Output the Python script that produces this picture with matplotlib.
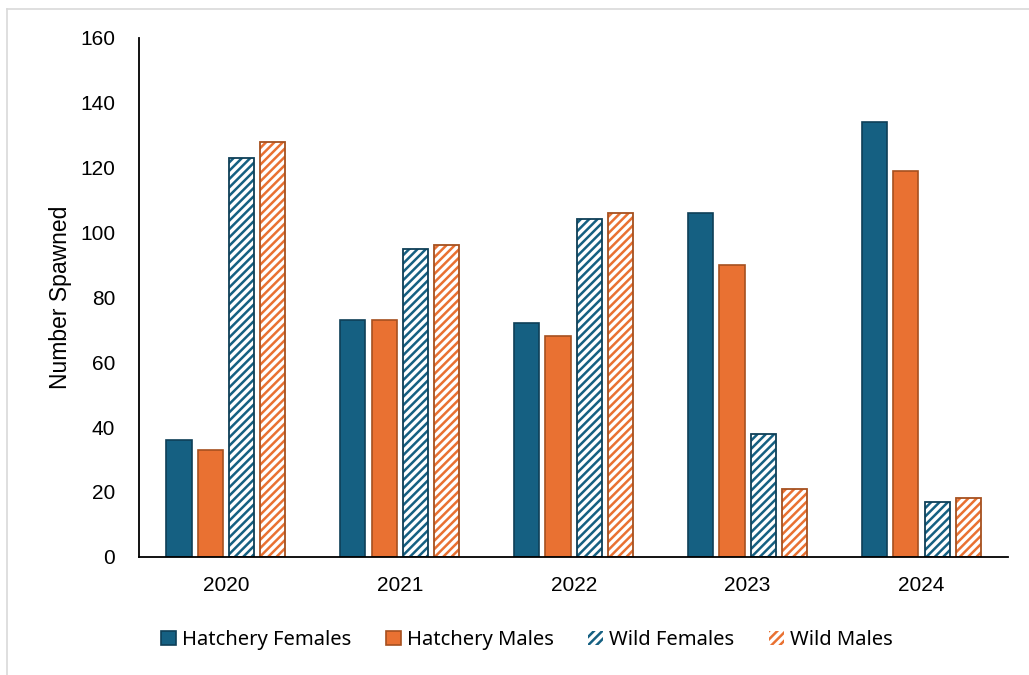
import numpy as np
import matplotlib.pyplot as plt
from matplotlib.lines import Line2D

years = ["2020", "2021", "2022", "2023", "2024"]
hatchery_females = [36, 73, 72, 106, 134]
hatchery_males = [33, 73, 68, 90, 119]
wild_females = [123, 95, 104, 38, 17]
wild_males = [128, 96, 106, 21, 18]

series = ["Hatchery Females", "Hatchery Males", "Wild Females", "Wild Males"]
values = [hatchery_females, hatchery_males, wild_females, wild_males]

blue = "#156082"
orange = "#E97132"
blue_edge = "#0E3F57"
orange_edge = "#A6501F"

plt.rcParams["font.family"] = ["Liberation Sans", "DejaVu Sans"]
plt.rcParams["hatch.linewidth"] = 1.8

fig = plt.figure(figsize=(10.29, 6.75), dpi=100)
ax = fig.add_axes([0.135, 0.175, 0.845, 0.769])

x = np.arange(len(years))
pitch = 0.18
width = 0.145
offsets = [-1.5 * pitch, -0.5 * pitch, 0.5 * pitch, 1.5 * pitch]

styles = [
    dict(color=blue, edge=blue_edge, hatch=None),
    dict(color=orange, edge=orange_edge, hatch=None),
    dict(color=blue, edge=blue_edge, hatch="////"),
    dict(color=orange, edge=orange_edge, hatch="////"),
]

handles = []
for name, vals, off, st in zip(series, values, offsets, styles):
    if st["hatch"] is None:
        b = ax.bar(x + off, vals, width, color=st["color"], edgecolor=st["edge"],
                   linewidth=1.2, label=name, zorder=2)
    else:
        # stripes drawn in the series colour, outline on top in the darker shade
        b = ax.bar(x + off, vals, width, facecolor="white", edgecolor=st["color"],
                   hatch=st["hatch"], linewidth=0, label=name, zorder=2)
        ax.bar(x + off, vals, width, fill=False, edgecolor=st["edge"],
               linewidth=1.3, zorder=3)
    handles.append(b)

ax.set_xlim(-0.5, len(years) - 0.5)
ax.set_ylim(0, 160)
ax.set_yticks(range(0, 161, 20))
ax.set_xticks(x)
ax.set_xticklabels(years)
ax.tick_params(axis="both", length=0, labelsize=15)
ax.tick_params(axis="y", pad=17)
ax.tick_params(axis="x", pad=14)

for side in ["top", "right"]:
    ax.spines[side].set_visible(False)
ax.spines["left"].set_linewidth(1.3)
ax.spines["bottom"].set_linewidth(1.3)
ax.spines["left"].set_zorder(4)
ax.spines["bottom"].set_zorder(4)

ax.set_ylabel("Number Spawned", fontsize=16.5, labelpad=6)

leg = fig.legend(handles=handles, labels=series, loc="center", bbox_to_anchor=(0.512, 0.052),
                 ncol=4, frameon=False, handlelength=0.75, handleheight=0.75,
                 handletextpad=0.3, columnspacing=1.7,
                 prop={"family": ["Noto Sans", "DejaVu Sans"], "size": 14.5})

# thin grey frame around the chart area
fig.add_artist(Line2D([0.007, 1.0], [0.987, 0.987], color="#d9d9d9", linewidth=1.2))
fig.add_artist(Line2D([0.007, 0.007], [0.0, 0.987], color="#d9d9d9", linewidth=1.2))

fig.savefig("out.png", dpi=100)
